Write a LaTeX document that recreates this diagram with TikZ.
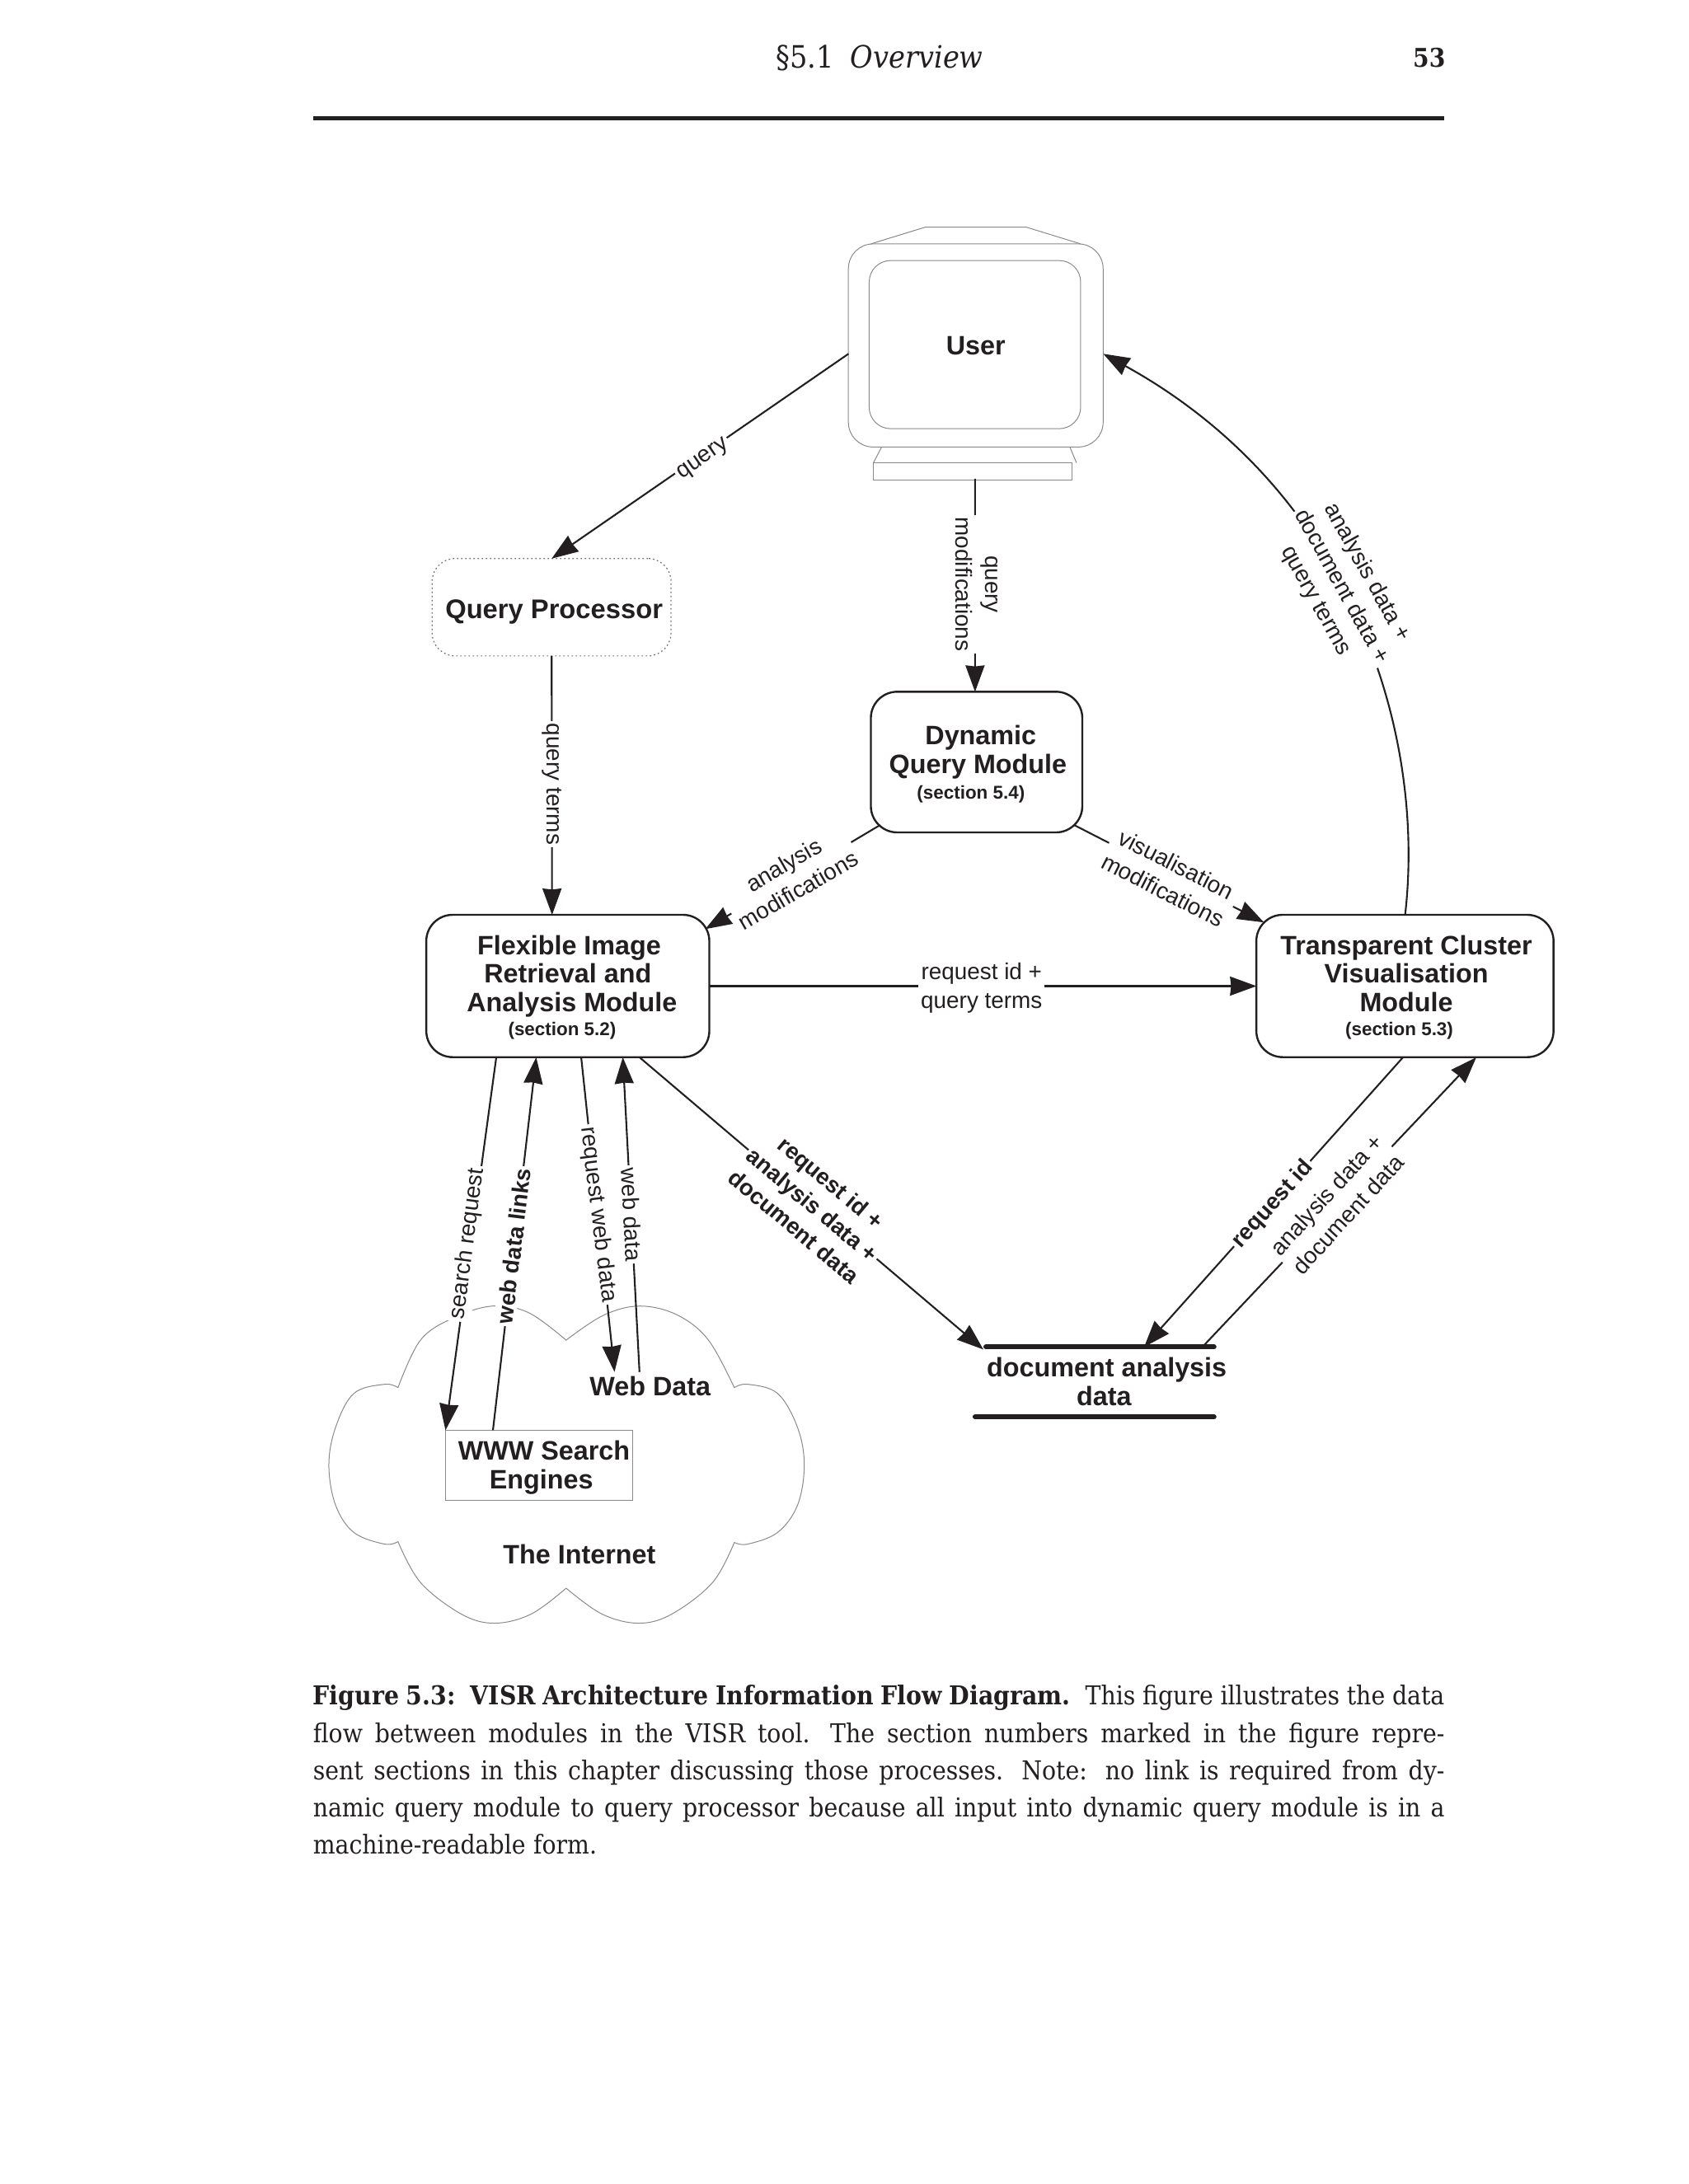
\documentclass[tikz,border=0pt]{standalone}
\usepackage{fontspec}
\setmainfont{Liberation Sans}
\newfontfamily\capfont{DejaVu Serif Condensed}
\usetikzlibrary{arrows.meta,calc}
\definecolor{ink}{HTML}{231F20}
\definecolor{thin}{HTML}{8A8A8A}
\tikzset{
  x=0.5pt,y=-0.5pt,
  every node/.style={text=ink,outer sep=0pt,transform shape},
  wire/.style={draw=ink,line width=1.05pt,-{Stealth[length=16pt,width=11.5pt,inset=0.6pt]}},
  module/.style={draw=ink,line width=1.2pt,rounded corners=16pt,align=center,inner sep=0pt,
     font=\fontsize{16}{17.2}\selectfont\bfseries},
  titletext/.style={align=center,inner sep=0pt,font=\fontsize{16}{17.2}\selectfont\bfseries},
  lab/.style={fill=white,inner sep=1.5pt,align=center,font=\fontsize{13.8}{17.5}\selectfont},
  blab/.style={lab,font=\fontsize{13.7}{17.2}\selectfont\bfseries},
  grayline/.style={draw=thin,line width=0.5pt},
  heavy/.style={draw=ink,line width=3pt,line cap=round},
}
\newcommand{\secnum}[1]{{\fontsize{11.1}{13}\selectfont #1}\hspace*{6.8pt}}
\begin{document}
\begin{tikzpicture}[scale=1.01]
\useasboundingbox (0,0) rectangle (2027.72,2623.76);
% header
\node[anchor=center,inner sep=0pt,font=\capfont\fontsize{18.5}{22}\selectfont] (hdr) at (1056.5,69.5) {§5.1\hspace{10pt}\textit{Overview}};
\node[anchor=east,inner sep=0pt,font=\capfont\fontsize{15.5}{22}\selectfont\bfseries] (pg) at (1736,69) {53};
\fill[ink] (376,139.5) rectangle (1735,144.5);
% cloud
\draw[grayline,fill=white,line join=round]
  plot[smooth,tension=.6] coordinates {(680,1610) (725,1580) (769,1569) (814,1580) (851,1610) (882,1667)}
  -- plot[smooth,tension=.6] coordinates {(882,1667) (898,1663) (934,1674) (958,1715) (966,1760) (958,1808) (934,1841) (898,1855) (882,1853)}
  -- plot[smooth,tension=.6] coordinates {(882,1853) (856,1901) (807,1939) (767,1950) (723,1939) (680,1908)}
  -- plot[smooth,tension=.6] coordinates {(680,1908) (638,1939) (594,1950) (554,1939) (505,1901) (478,1852)}
  -- plot[smooth,tension=.6] coordinates {(478,1852) (462,1855) (425,1841) (403,1808) (395,1760) (403,1715) (425,1674) (462,1663) (478,1667)}
  -- plot[smooth,tension=.6] coordinates {(478,1667) (505,1610) (545,1583) (592,1569) (635,1577) (680,1610)}
  -- cycle;
% monitor
\draw[grayline] (1046,293) -- (1111,273) -- (1233,273) -- (1298,293);
\draw[grayline] (1059,537) -- (1049,556) (1285,537) -- (1293,556);
\draw[grayline] (1049,556) rectangle (1288,577);
\node[draw=thin,line width=0.5pt,rounded corners=15pt,minimum width=153pt,minimum height=122pt,
      inner sep=0pt,font=\fontsize{16}{17}\selectfont\bfseries] (user) at (1172,415) {User};
\draw[grayline,rounded corners=13pt] (1044,313) rectangle (1298,515);
% nodes
\node[draw=thin!80!black,line width=0.6pt,dash pattern=on 0.9pt off 1.6pt,rounded corners=14pt,minimum width=143.5pt,minimum height=58.5pt,
      inner sep=0pt,font=\fontsize{16.2}{17}\selectfont\bfseries] (qp) at (662.5,729.5) {\hspace*{3pt}\rule{0pt}{16.5pt}Query Processor};
\node[module,minimum width=127pt,minimum height=84.5pt] (dyn) at (1173,915.5)
   {\hspace*{5pt}\rule{0pt}{14pt}Dynamic\\\hspace*{1.7pt}Query Module\\[-2pt]\secnum{(section 5.4)}};
\node[module,minimum width=170pt,minimum height=85.5pt] (flex) at (682,1184.5)
   {\hspace*{1.7pt}\rule{0pt}{13.4pt}Flexible Image\\Retrieval and\\\hspace*{5pt}Analysis Module\\[-2.7pt]\secnum{(section 5.2)}};
\node[module,minimum width=178.5pt,minimum height=85.5pt] (trans) at (1687.5,1184.5)
   {\hspace*{1.7pt}\rule{0pt}{13.4pt}Transparent Cluster\\\hspace*{1.7pt}Visualisation\\\hspace*{1.7pt}Module\\[-2.7pt]\secnum{(section 5.3)}};
\node[draw=thin,line width=0.5pt,minimum width=112.5pt,minimum height=42pt,fill=white,inner sep=0pt,
      align=center,font=\fontsize{16}{17.2}\selectfont\bfseries] (www) at (647.5,1760) {\hspace*{6pt}\rule{0pt}{15pt}WWW Search\\\hspace*{2.6pt}Engines};
\node[titletext,minimum height=17pt] (webd) at (781,1665) {Web Data};
\node[titletext] (inet) at (696,1867) {The Internet};
\node[titletext,minimum height=42pt] (doc) at (1326,1660) {\hspace*{3.4pt}document analysis\\data};
\draw[heavy] ($(doc.north)+(-142,0)$) -- ($(doc.north)+(132,0)$);
\draw[heavy] ($(doc.south)+(-155,0)$) -- ($(doc.south)+(132,0)$);
% connectors
\draw[wire] ($(user.west)+(0,10)$) -- (qp.north);
\draw[wire] ($(user.south)+(-1,38)$) -- ($(dyn.north)+(-2,0)$);
\draw[wire] (trans.north) .. controls (1713,880) and (1624,590) .. ($(user.east)+(0,10)$);
\draw[wire] (qp.south) -- ($(flex.north)+(-19,0)$);
\draw[wire] ($(dyn.south)+(-116,-9)$) -- ($(flex.north east)+(-5,17)$);
\draw[wire] ($(dyn.south)+(117,-9)$) -- ($(trans.north west)+(9,9)$);
\draw[wire] (flex.east) -- (trans.west);
\draw[wire] ($(flex.south)+(-86,0)$) -- (www.north west);
\draw[wire] ($(www.north)+(-55.5,0)$) -- ($(flex.south)+(-38,0)$);
\draw[wire] ($(flex.south)+(16,0)$) -- ($(webd.north)+(-43,0)$);
\draw[wire] ($(webd.north)+(-13,0)$) -- ($(flex.south)+(66,0)$);
\draw[wire] ($(flex.south)+(86,0)$) -- ($(doc.north)+(-145,3)$);
\draw[wire] ($(trans.south)+(-2.5,0)$) -- ($(doc.north)+(48,0)$);
\draw[wire] ($(doc.north)+(118,0)$) -- ($(trans.south)+(85.5,0)$);
% labels
\node[lab,rotate=34.6] (l1) at (845,552) {query};
\node[lab,rotate=-90] (l2) at (1173,702) {query\\modifications};
\node[lab,rotate=-61] (l3) at (1611,705) {analysis data +\\document data +\\query terms};
\node[lab,rotate=-90] (l4) at (663,942) {query terms};
\node[lab,rotate=30] (l5) at (950,1054) {analysis\\modifications};
\node[lab,rotate=-27] (l6) at (1405,1054) {visualisation\\modifications};
\node[lab] (l7) at (1179,1187) {request id +\\query terms};
\node[lab,rotate=82.5] (l8) at (562,1494) {search request};
\node[blab,rotate=83] (l9) at (617,1497) {web data links};
\node[lab,rotate=-83] (l10) at (718,1459) {request web data};
\node[lab,rotate=-87] (l11) at (759,1459) {web data};
\node[blab,rotate=-40] (l12) at (976,1447) {request id +\\analysis data +\\document data};
\node[lab,rotate=47.5] (l13) at (1606,1447) {analysis data +\\document data};
\node[blab,rotate=48] (l14) at (1529,1447) {request id};
% caption
\node[anchor=north west,inner sep=0pt,text width=679.5pt,font=\capfont\fontsize{15.6}{22.4}\selectfont] (cap) at (376,2024.6) {%
\spaceskip=0.3em plus 0.6em minus 0.1em
\xspaceskip=0.6em plus 0.6em minus 0.1em
\makebox[679.5pt][s]{\textbf{Figure 5.3: VISR Architecture Information Flow Diagram.} This figure illustrates the data}\\
\makebox[679.5pt][s]{flow between modules in the VISR tool. The section numbers marked in the figure repre-}\\
\makebox[679.5pt][s]{sent sections in this chapter discussing those processes. Note: no link is required from dy-}\\
\makebox[679.5pt][s]{namic query module to query processor because all input into dynamic query module is in a}\\
machine-readable form.};
\end{tikzpicture}
\end{document}
